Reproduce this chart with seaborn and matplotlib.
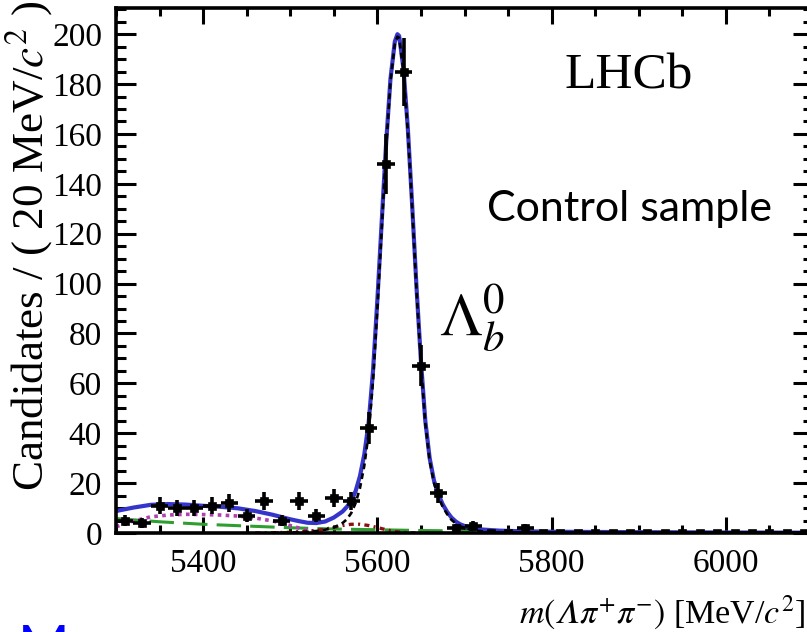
import numpy as np
import pandas as pd
import matplotlib
matplotlib.use("Agg")
import matplotlib.pyplot as plt
import seaborn as sns
from matplotlib.ticker import MultipleLocator

# ---------------- data ----------------
bin_centers = [5310, 5330, 5350, 5370, 5390, 5410, 5430, 5450, 5470, 5490,
               5510, 5530, 5550, 5570, 5590, 5610, 5630, 5650, 5670, 5690,
               5710, 5730, 5750, 5770, 5790, 5810, 5830, 5850, 5870, 5890,
               5910, 5930, 5950, 5970, 5990, 6010, 6030, 6050, 6070, 6090]
counts = [5, 4, 11, 10, 10, 11, 12, 7, 13, 5,
          13, 7, 14, 13, 42, 148, 185, 67, 16, 2,
          3, 0, 0, 2, 0, 0, 0, 0, 0, 0,
          0, 0, 0, 0, 0, 0, 0, 0, 0, 0]

# total fit (blue solid)
total_x = [5300, 5320, 5340, 5360, 5380, 5400, 5420, 5440, 5460, 5480, 5490,
           5500, 5510, 5520, 5530, 5540, 5550, 5560, 5565, 5570, 5575, 5580,
           5585, 5590, 5595, 5600, 5605, 5610, 5615, 5620, 5623, 5625, 5630,
           5635, 5640, 5645, 5650, 5655, 5660, 5665, 5670, 5675, 5680, 5685,
           5690, 5695, 5700, 5710, 5720, 5740, 5760, 5800, 5900, 6000, 6100]
total_y = [8.8, 10.2, 11.3, 11.6, 11.4, 10.9, 10.5, 9.9, 8.8, 7.3, 6.4,
           5.5, 4.75, 4.1, 4.0, 4.6, 6.2, 8.6, 10.5, 12.8, 16.8, 22.8,
           31.5, 44.3, 65, 93.5, 125, 156, 182, 197, 200, 199.3, 186,
           162, 131, 98, 69, 45, 30, 21, 15.5, 11.5, 8.5, 6.2,
           4.6, 3.5, 2.8, 1.9, 1.4, 0.95, 0.75, 0.5, 0.32, 0.2, 0.13]

# signal (black dashed)
sig_x = [5480, 5500, 5520, 5530, 5540, 5550, 5560, 5565, 5570, 5575, 5580,
         5585, 5590, 5595, 5600, 5605, 5610, 5615, 5620, 5623, 5625, 5630,
         5635, 5640, 5645, 5650, 5655, 5660, 5665, 5670, 5675, 5680, 5685,
         5690, 5695, 5700, 5710, 5720, 5740, 5760, 5800, 6100]
sig_y = [0.05, 0.2, 0.5, 0.8, 1.3, 2.2, 4.0, 5.5, 8.0, 12.0, 18.0,
         27, 40, 61, 90, 122, 154, 181, 196, 199, 198.5, 185,
         161, 130, 97, 68, 44, 29, 20, 14.5, 10.5, 7.6, 5.3,
         3.8, 2.7, 2.0, 1.1, 0.7, 0.3, 0.15, 0.05, 0.0]

# combinatorial background (green long dash)
comb_x = [5300, 5350, 5400, 5450, 5500, 5550, 5600, 5650, 5700, 5800, 5900, 6000, 6100]
comb_y = [5.8, 4.5, 3.5, 2.8, 2.1, 1.6, 1.3, 1.0, 0.8, 0.5, 0.32, 0.2, 0.13]

# partially reconstructed background (magenta dotted)
part_x = [5300, 5320, 5340, 5360, 5380, 5400, 5420, 5440, 5460, 5480, 5490,
          5500, 5510, 5520, 5530, 5540]
part_y = [2.5, 4.8, 6.5, 7.2, 7.5, 7.4, 7.2, 6.8, 6.0, 4.8, 4.0,
          3.0, 2.0, 1.0, 0.3, 0.0]

# peaking background (dark red dash-dot)
peak_x = [5460, 5480, 5500, 5520, 5540, 5550, 5560, 5570, 5580, 5590, 5600,
          5610, 5620, 5630, 5640, 5660]
peak_y = [0.0, 0.1, 0.3, 0.7, 1.5, 2.3, 3.0, 3.5, 3.5, 3.0, 2.2,
          1.3, 0.6, 0.2, 0.05, 0.0]

x_major = [5400, 5600, 5800, 6000]

# ---------------- style ----------------
sns.set_theme(style="ticks")
plt.rcParams["font.family"] = ["Liberation Serif", "DejaVu Serif"]
plt.rcParams["mathtext.fontset"] = "stix"

W, H = 807, 632
fig = plt.figure(figsize=(W / 100, H / 100), dpi=100)
ax_left, ax_right, ax_bottom, ax_top = 116, 813, 533, 8
ax = fig.add_axes([ax_left / W, (H - ax_bottom) / H,
                   (ax_right - ax_left) / W, (ax_bottom - ax_top) / H])

def curve(xs, ys, color, lw, dashes=None):
    d = pd.DataFrame({"x": xs, "y": ys})
    sns.lineplot(data=d, x="x", y="y", ax=ax, color=color, linewidth=lw,
                 sort=False, estimator=None)
    ln = ax.lines[-1]
    if dashes is not None:
        ln.set_dashes(dashes)
    return ln

curve(comb_x, comb_y, "#2e9e2e", 2.2, (8, 3))
curve(part_x, part_y, "#b040b0", 2.6, (1, 1.2))
curve(peak_x, peak_y, "#8b1010", 2.4, (1.5, 1.3, 0.6, 1.3))
curve(total_x, total_y, "#3535cc", 3.0)
curve(sig_x, sig_y, "black", 1.9, (2.2, 1.6))

cnt = np.array(counts, dtype=float)
err = np.sqrt(cnt)
ax.errorbar(bin_centers, cnt, xerr=10, yerr=err, fmt="none", ecolor="black",
            elinewidth=2.6, capsize=0, zorder=5)
sns.scatterplot(x=bin_centers, y=counts, ax=ax, marker="s", s=34,
                color="black", edgecolor="black", zorder=6)

ax.set_xlim(5300, 6100)
ax.set_ylim(0, 210.5)
ax.set_xlabel("")
ax.set_ylabel("")

ax.set_xticks(x_major)
ax.xaxis.set_minor_locator(MultipleLocator(50))
ax.yaxis.set_major_locator(MultipleLocator(20))
ax.yaxis.set_minor_locator(MultipleLocator(5))
ax.tick_params(axis="both", which="both", direction="in", top=True, right=True,
               colors="black", width=2.2)
ax.tick_params(axis="x", which="major", length=11.5, pad=11, labelsize=24)
ax.tick_params(axis="x", which="minor", length=5.8)
ax.tick_params(axis="y", which="major", length=14.5, pad=10, labelsize=24)
ax.tick_params(axis="y", which="minor", length=7.2)
for s in ax.spines.values():
    s.set_linewidth(2.6)
    s.set_color("black")
    s.set_visible(True)

# ---------------- texts ----------------
fig.text(805 / W, 1 - 623 / H, "$m(\U0001D6EC\\pi^{+}\\pi^{-})$ [MeV/$c^{2}$]",
         ha="right", va="baseline", fontsize=24.5, color="black")
fig.text(29 / W, 1.0, r"Candidates / ( 20 MeV/$c^{2}$ )", rotation=90,
         ha="center", va="top", fontsize=32.5, color="black")
ax.text(5889, 183, "LHCb", ha="center", va="center", fontsize=37, color="black")
ax.text(5889, 130, "Control sample", ha="center", va="center", fontsize=31,
        family=["Lato", "DejaVu Sans"], color="black")
ax.text(5709, 86, r"$\Lambda_b^0$", ha="center", va="center", fontsize=44,
        color="black")
fig.text(18 / W, 1 - 665 / H, "M", ha="left", va="baseline", fontsize=40,
         family=["Lato", "DejaVu Sans"], color="#0000ff")

fig.savefig("out.png", dpi=100)
